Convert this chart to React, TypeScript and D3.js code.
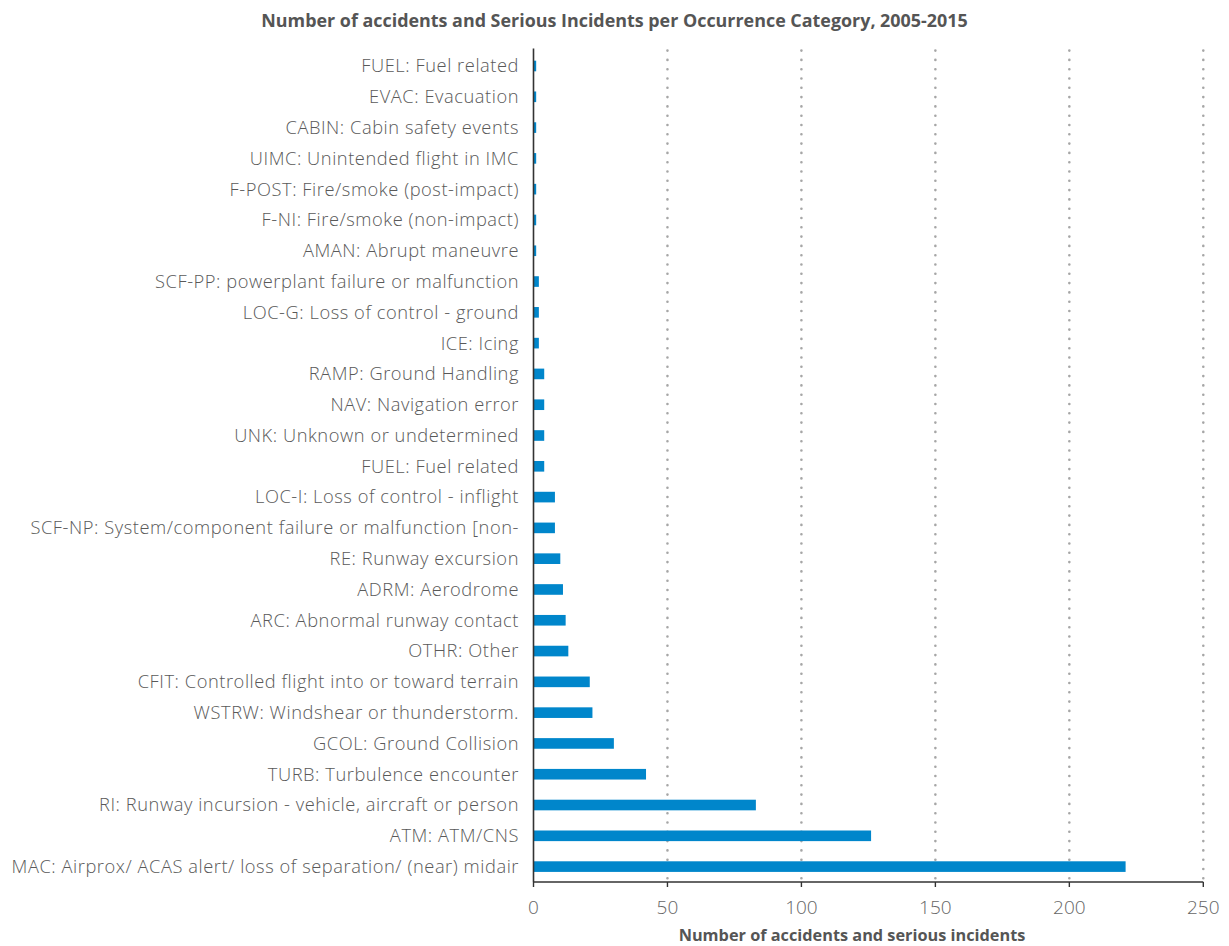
import React from "react";
import * as d3 from "d3";

// Occurrence categories, listed top to bottom as they appear on the chart
const categories: string[] = [
  "FUEL: Fuel related",
  "EVAC: Evacuation",
  "CABIN: Cabin safety events",
  "UIMC: Unintended flight in IMC",
  "F-POST: Fire/smoke (post-impact)",
  "F-NI: Fire/smoke (non-impact)",
  "AMAN: Abrupt maneuvre",
  "SCF-PP: powerplant failure or malfunction",
  "LOC-G: Loss of control - ground",
  "ICE: Icing",
  "RAMP: Ground Handling",
  "NAV: Navigation error",
  "UNK: Unknown or undetermined",
  "FUEL: Fuel related",
  "LOC-I: Loss of control - inflight",
  "SCF-NP: System/component failure or malfunction [non-",
  "RE: Runway excursion",
  "ADRM: Aerodrome",
  "ARC: Abnormal runway contact",
  "OTHR: Other",
  "CFIT: Controlled flight into or toward terrain",
  "WSTRW: Windshear or thunderstorm.",
  "GCOL: Ground Collision",
  "TURB: Turbulence encounter",
  "RI: Runway incursion - vehicle, aircraft or person",
  "ATM: ATM/CNS",
  "MAC: Airprox/ ACAS alert/ loss of separation/ (near) midair",
];

const counts: number[] = [
  1, 1, 1, 1, 1, 1, 1, 2, 2, 2, 4, 4, 4, 4, 8, 8, 10, 11, 12, 13, 21, 22, 30, 42, 83, 126, 221,
];

const xTicks: number[] = [0, 50, 100, 150, 200, 250];

const chartTitle = "Number of accidents and Serious Incidents per Occurrence Category, 2005-2015";
const xAxisTitle = "Number of accidents and serious incidents";

const W = 1229;
const H = 946;
const plotLeft = 533.5;
const plotRight = 1203.3;
const plotTop = 50.6;
const plotBottom = 882;

const FONT = "'Open Sans', 'Noto Sans', sans-serif";

export default function App() {
  const x = d3.scaleLinear().domain([0, 250]).range([plotLeft, plotRight]);
  const y = d3
    .scaleBand<number>()
    .domain(d3.range(categories.length))
    .range([plotTop, plotBottom])
    .paddingInner(0.655)
    .paddingOuter(0.3275);
  const band = (plotBottom - plotTop) / categories.length;

  return (
    <svg
      width={W}
      height={H}
      viewBox={`0 0 ${W} ${H}`}
      style={{ position: "absolute", left: 0, top: 0, background: "#fff" }}
    >
      <text
        x={614.5}
        y={27}
        textAnchor="middle"
        fontFamily={FONT}
        fontWeight={700}
        fontSize={17.9}
        fill="#555"
      >
        {chartTitle}
      </text>

      {/* dotted vertical gridlines */}
      {xTicks
        .filter((t) => t > 0)
        .map((t) => (
          <line
            key={`g${t}`}
            x1={x(t)}
            x2={x(t)}
            y1={plotTop}
            y2={plotBottom}
            stroke="#a6a6a6"
            strokeWidth={2.6}
            strokeDasharray="0 9.3"
            strokeLinecap="round"
          />
        ))}

      {/* bars */}
      {counts.map((v, i) => (
        <rect
          key={`b${i}`}
          x={x(0)}
          y={y(i)}
          width={x(v) - x(0)}
          height={y.bandwidth()}
          fill="#0086cb"
        />
      ))}

      {/* category labels */}
      {categories.map((c, i) => (
        <text
          key={`l${i}`}
          x={519}
          y={plotTop + band * (i + 0.5)}
          dy="0.35em"
          textAnchor="end"
          fontFamily={FONT}
          fontWeight={300}
          fontSize={18.3}
          letterSpacing={0.55}
          fill="#595959"
        >
          {c}
        </text>
      ))}

      {/* axes */}
      <line x1={plotLeft} x2={plotLeft} y1={plotTop - 2} y2={plotBottom} stroke="#333" strokeWidth={1.6} />
      <line x1={plotLeft} x2={plotRight} y1={plotBottom} y2={plotBottom} stroke="#333" strokeWidth={1.4} />
      {xTicks.map((t) => (
        <g key={`t${t}`}>
          <line x1={x(t)} x2={x(t)} y1={plotBottom} y2={plotBottom + 5} stroke="#333" strokeWidth={1.4} />
          <text
            x={x(t)}
            y={914}
            textAnchor="middle"
            fontFamily={FONT}
            fontWeight={300}
            fontSize={19}
            fill="#666"
          >
            {t}
          </text>
        </g>
      ))}

      <text
        x={852}
        y={941}
        textAnchor="middle"
        fontFamily={FONT}
        fontWeight={700}
        fontSize={16.3}
        fill="#555"
      >
        {xAxisTitle}
      </text>
    </svg>
  );
}
